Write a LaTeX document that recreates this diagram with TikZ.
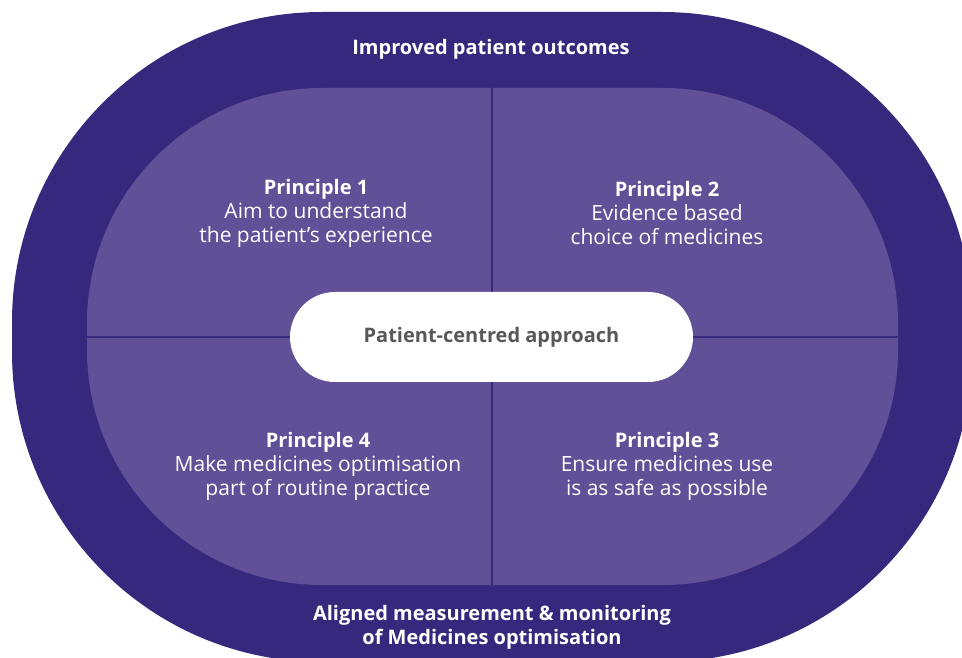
\documentclass[tikz,border=0pt]{standalone}
\usepackage{fontspec}
\setmainfont{Open Sans}
\definecolor{outerc}{RGB}{54,40,125}
\definecolor{innerc}{RGB}{96,80,151}
\definecolor{pilltext}{RGB}{88,88,88}
\newcommand{\hd}[1]{{\fontsize{20}{24}\selectfont\bfseries #1}}
\begin{document}
\begin{tikzpicture}[x=1pt,y=1pt,
  lbl/.style={text=white,align=center,inner sep=0pt,font=\fontsize{21}{24}\selectfont},
  boldlbl/.style={lbl,font=\fontsize{20}{24}\selectfont\bfseries},
  divider/.style={draw=outerc,line width=2.5pt}]
\useasboundingbox (0,0) rectangle (962,657);
\clip (0,0) rectangle (962,657);
% outer band
\fill[outerc] (322,645) -- (662,645) arc[start angle=90,end angle=0,radius=310]
  -- (972,305) arc[start angle=0,end angle=-90,radius=310]
  -- (322,-5) arc[start angle=270,end angle=180,radius=310]
  -- (12,335) arc[start angle=180,end angle=90,radius=310] -- cycle;
% inner field
\fill[innerc] (322,569) -- (663,569) arc[start angle=90,end angle=0,radius=235]
  -- (898,307) arc[start angle=0,end angle=-90,radius=235]
  -- (322,72) arc[start angle=270,end angle=180,radius=235]
  -- (87,334) arc[start angle=180,end angle=90,radius=235] -- cycle;
% dividers
\coordinate (vt) at (492,569);
\coordinate (vb) at (492,72);
\coordinate (hl) at (87,320);
\coordinate (hr) at (898,320);
\draw[divider] (vt) -- (vb);
\draw[divider] (hl) -- (hr);
% centre pill
\node (centre) [fill=white,rounded corners=45pt,minimum width=403pt,minimum height=90pt,inner sep=0pt,
  text=pilltext,font=\fontsize{20}{24}\selectfont\bfseries] at (491.5,320) {Patient-centred approach};
% labels
\node (title) [boldlbl] at (491,608) {Improved patient outcomes};
\node (p1) [lbl] at (316,444) {\hd{Principle 1}\\Aim to understand\\the patient’s experience};
\node (p2) [lbl] at (667,444) {\hd{Principle 2}\\Evidence based\\choice of medicines};
\node (p4) [lbl] at (318,191) {\hd{Principle 4}\\Make medicines optimisation\\part of routine practice};
\node (p3) [lbl] at (667,191) {\hd{Principle 3}\\Ensure medicines use\\is as safe as possible};
\node (bottom) [boldlbl] at (492,30) {Aligned measurement \& monitoring\\of Medicines optimisation};
\end{tikzpicture}
\end{document}
